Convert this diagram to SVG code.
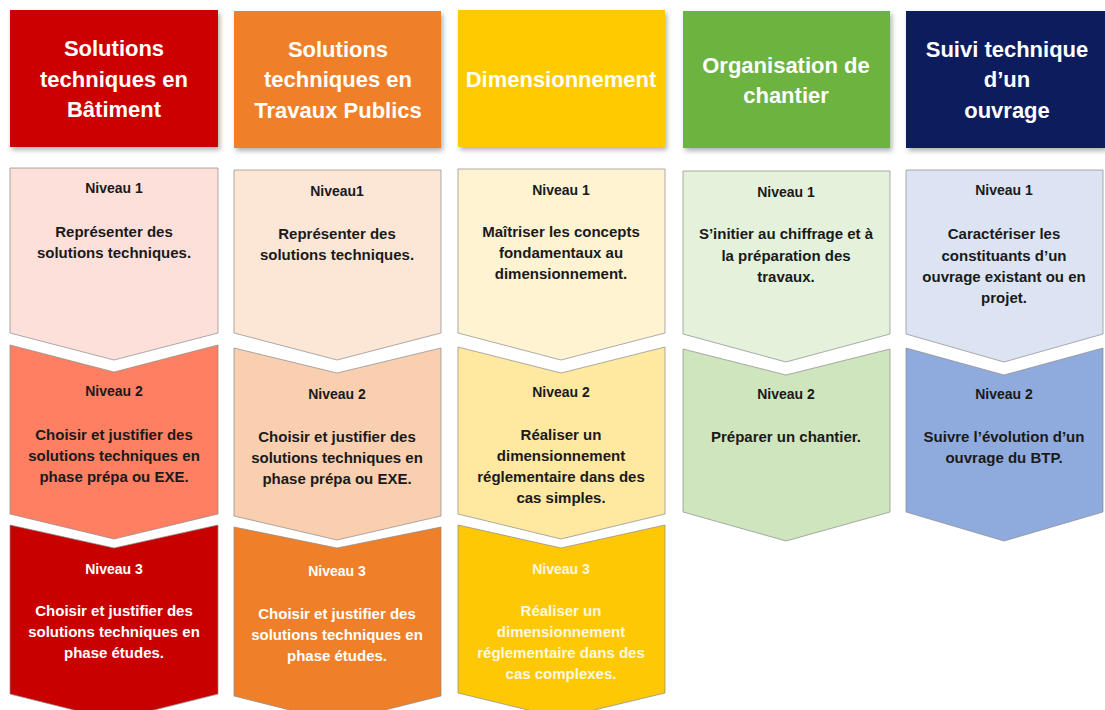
<svg xmlns="http://www.w3.org/2000/svg" width="1105" height="710" viewBox="0 0 1105 710">
<defs>
<filter id="sh" x="-10%" y="-10%" width="130%" height="130%">
<feDropShadow dx="2" dy="3" stdDeviation="2.5" flood-color="#000" flood-opacity="0.3"/>
</filter>
<style>
.hd{font-family:"Liberation Sans",Arial,sans-serif;font-weight:bold;font-size:22px;fill:#fff;text-anchor:middle}
.nv{font-family:"Liberation Sans",Arial,sans-serif;font-weight:bold;font-size:14px;fill:#1a1a1a;text-anchor:middle}
.tx{font-family:"Liberation Sans",Arial,sans-serif;font-weight:bold;font-size:15px;fill:#1a1a1a;text-anchor:middle}
.w{fill:#fff}
.wy{fill:#fff8e0}
.ch{stroke:#8a8a8a;stroke-width:1;stroke-opacity:0.7}
</style>
</defs>
<rect width="1105" height="710" fill="#fff"/>

<!-- Headers -->
<g id="h1"><rect x="10" y="10" width="208" height="137" fill="#CC0000" filter="url(#sh)"/>
<text class="hd" x="114" y="56">Solutions</text><text class="hd" x="114" y="87">techniques en</text><text class="hd" x="114" y="117">Bâtiment</text></g>
<g id="h2"><rect x="234" y="11" width="207" height="137" fill="#F07F2A" filter="url(#sh)"/>
<text class="hd" x="338" y="57">Solutions</text><text class="hd" x="338" y="87">techniques en</text><text class="hd" x="338" y="118">Travaux Publics</text></g>
<g id="h3"><rect x="458" y="10" width="207" height="137" fill="#FFCB05" filter="url(#sh)"/>
<text class="hd" x="561" y="87">Dimensionnement</text></g>
<g id="h4"><rect x="683" y="11" width="207" height="137" fill="#6DB33F" filter="url(#sh)"/>
<text class="hd" x="786" y="73">Organisation de</text><text class="hd" x="786" y="103">chantier</text></g>
<g id="h5"><rect x="906" y="11" width="199" height="137" fill="#0B1F5B" filter="url(#sh)"/>
<text class="hd" x="1007" y="57">Suivi technique</text><text class="hd" x="1007" y="87">d’un</text><text class="hd" x="1007" y="118">ouvrage</text></g>

<!-- Column 1 -->
<g id="c1n1"><path class="ch" d="M10,168 L218,168 L218,333 L114,360 L10,333 Z" fill="#FDE0DA"/>
<text class="nv" x="114" y="193">Niveau 1</text>
<text class="tx" x="114" y="237">Représenter des</text><text class="tx" x="114" y="258">solutions techniques.</text></g>
<g id="c1n2"><path class="ch" d="M10,345 L114,372 L218,345 L218,514 L114,539 L10,514 Z" fill="#FF7F62"/>
<text class="nv" x="114" y="396">Niveau 2</text>
<text class="tx" x="114" y="440">Choisir et justifier des</text><text class="tx" x="114" y="461">solutions techniques en</text><text class="tx" x="114" y="482">phase prépa ou EXE.</text></g>
<g id="c1n3"><path class="ch" d="M10,525 L114,548 L218,525 L218,694 L114,720 L10,694 Z" fill="#C80000"/>
<text class="nv w" x="114" y="574">Niveau 3</text>
<text class="tx w" x="114" y="616">Choisir et justifier des</text><text class="tx w" x="114" y="637">solutions techniques en</text><text class="tx w" x="114" y="658">phase études.</text></g>

<!-- Column 2 -->
<g id="c2n1"><path class="ch" d="M234,170 L441,170 L441,333 L337,360 L234,333 Z" fill="#FCE6D6"/>
<text class="nv" x="337" y="196">Niveau1</text>
<text class="tx" x="337" y="239">Représenter des</text><text class="tx" x="337" y="260">solutions techniques.</text></g>
<g id="c2n2"><path class="ch" d="M234,348 L337,373 L441,348 L441,516 L337,540 L234,516 Z" fill="#F9CFB0"/>
<text class="nv" x="337" y="399">Niveau 2</text>
<text class="tx" x="337" y="442">Choisir et justifier des</text><text class="tx" x="337" y="463">solutions techniques en</text><text class="tx" x="337" y="484">phase prépa ou EXE.</text></g>
<g id="c2n3"><path class="ch" d="M234,527 L337,548 L441,527 L441,696 L337,722 L234,696 Z" fill="#F07F2A"/>
<text class="nv w" x="337" y="576">Niveau 3</text>
<text class="tx w" x="337" y="619">Choisir et justifier des</text><text class="tx w" x="337" y="640">solutions techniques en</text><text class="tx w" x="337" y="661">phase études.</text></g>

<!-- Column 3 -->
<g id="c3n1"><path class="ch" d="M458,169 L665,169 L665,333 L561,360 L458,333 Z" fill="#FFF3D2"/>
<text class="nv" x="561" y="195">Niveau 1</text>
<text class="tx" x="561" y="237">Maîtriser les concepts</text><text class="tx" x="561" y="258">fondamentaux au</text><text class="tx" x="561" y="279">dimensionnement.</text></g>
<g id="c3n2"><path class="ch" d="M458,347 L561,373 L665,347 L665,514 L561,539 L458,514 Z" fill="#FFE8A0"/>
<text class="nv" x="561" y="397">Niveau 2</text>
<text class="tx" x="561" y="440">Réaliser un</text><text class="tx" x="561" y="461">dimensionnement</text><text class="tx" x="561" y="482">réglementaire dans des</text><text class="tx" x="561" y="503">cas simples.</text></g>
<g id="c3n3"><path class="ch" d="M458,525 L561,548 L665,525 L665,693 L561,718 L458,693 Z" fill="#FFC805"/>
<text class="nv wy" x="561" y="574">Niveau 3</text>
<text class="tx wy" x="561" y="616">Réaliser un</text><text class="tx wy" x="561" y="637">dimensionnement</text><text class="tx wy" x="561" y="658">réglementaire dans des</text><text class="tx wy" x="561" y="679">cas complexes.</text></g>

<!-- Column 4 -->
<g id="c4n1"><path class="ch" d="M683,171 L890,171 L890,334 L786,362 L683,334 Z" fill="#E4F1DB"/>
<text class="nv" x="786" y="197">Niveau 1</text>
<text class="tx" x="786" y="239">S’initier au chiffrage et à</text><text class="tx" x="786" y="261">la préparation des</text><text class="tx" x="786" y="282">travaux.</text></g>
<g id="c4n2"><path class="ch" d="M683,349 L786,375 L890,349 L890,512 L786,541 L683,512 Z" fill="#CFE5BE"/>
<text class="nv" x="786" y="399">Niveau 2</text>
<text class="tx" x="786" y="442">Préparer un chantier.</text></g>

<!-- Column 5 -->
<g id="c5n1"><path class="ch" d="M906,170 L1103,170 L1103,334 L1004,362 L906,334 Z" fill="#DCE4F4"/>
<text class="nv" x="1004" y="195">Niveau 1</text>
<text class="tx" x="1004" y="239">Caractériser les</text><text class="tx" x="1004" y="261">constituants d’un</text><text class="tx" x="1004" y="282">ouvrage existant ou en</text><text class="tx" x="1004" y="303">projet.</text></g>
<g id="c5n2"><path class="ch" d="M906,348 L1004,375 L1103,348 L1103,512 L1004,541 L906,512 Z" fill="#8FAADC"/>
<text class="nv" x="1004" y="399">Niveau 2</text>
<text class="tx" x="1004" y="442">Suivre l’évolution d’un</text><text class="tx" x="1004" y="463">ouvrage du BTP.</text></g>
</svg>
